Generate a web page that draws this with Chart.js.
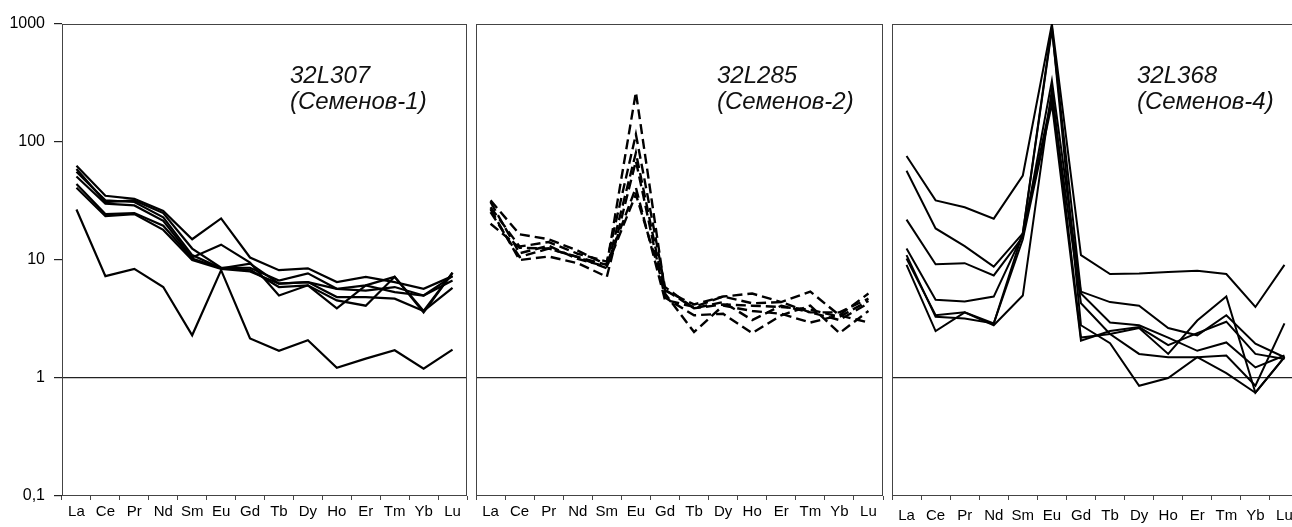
<!DOCTYPE html>
<html>
<head>
<meta charset="utf-8">
<script src="https://cdn.jsdelivr.net/npm/chart.js@4/dist/chart.umd.min.js"></script>
<style>
  html, body { margin: 0; padding: 0; background: #fff; }
  body { width: 1292px; height: 527px; overflow: hidden; position: relative; }
  canvas { position: absolute; top: 0; }
</style>
</head>
<body>
<canvas id="c1" width="470" height="527" style="left:0"></canvas>
<canvas id="c2" width="415" height="527" style="left:470px"></canvas>
<canvas id="c3" width="420" height="527" style="left:885px"></canvas>
<script>
const elements = ['La', 'Ce', 'Pr', 'Nd', 'Sm', 'Eu', 'Gd', 'Tb', 'Dy', 'Ho', 'Er', 'Tm', 'Yb', 'Lu'];
const yTicks = [0.1, 1, 10, 100, 1000];

// 32L307 (Семенов-1)
const s307a = [63, 35, 33, 26, 15, 22.5, 10.5, 8.2, 8.5, 6.5, 7.2, 6.5, 5.7, 7.3];
const s307b = [59, 31, 32, 25, 12.5, 8.6, 8.6, 6.7, 7.7, 5.7, 6.1, 7.2, 3.7, 7.8];
const s307c = [56, 32, 31, 23, 11, 8.5, 9.3, 6.3, 6.5, 5.7, 5.5, 5.9, 5.0, 6.7];
const s307d = [51, 30, 29, 21.5, 10.5, 13.5, 9.5, 5.0, 6.1, 4.55, 4.1, 7.2, 3.6, 7.8];
const s307e = [44, 24.5, 25, 19.5, 10.3, 8.5, 8.3, 5.9, 6.1, 3.9, 6.1, 5.35, 5.0, 7.3];
const s307f = [41, 23.5, 24.5, 18, 10, 8.4, 8.0, 6.3, 6.5, 4.85, 4.85, 4.7, 3.7, 5.8];
const s307g = [26.8, 7.3, 8.4, 5.9, 2.3, 8.2, 2.16, 1.70, 2.09, 1.22, 1.46, 1.72, 1.20, 1.74];

// 32L285 (Семенов-2)
const s285a = [32, 16.5, 15, 12, 9.1, 264, 5.5, 4.2, 4.9, 5.2, 4.4, 5.4, 3.4, 2.95];
const s285b = [28, 13, 14.2, 11.3, 9.7, 116, 5.9, 3.9, 4.4, 3.1, 4.1, 3.6, 3.6, 4.7];
const s285c = [25.5, 10.6, 12.5, 10.6, 8.5, 81, 5.2, 2.45, 4.1, 3.7, 3.5, 2.95, 3.4, 5.2];
const s285d = [27, 10, 10.7, 9.4, 7.2, 69, 4.8, 3.4, 3.5, 2.4, 3.4, 4.1, 2.4, 3.7];
const s285e = [20.3, 12.7, 12.5, 10.6, 9.1, 41, 4.6, 4.0, 4.9, 4.3, 4.4, 3.6, 3.1, 4.3];
const s285f = [31, 11.4, 13.2, 10.2, 8.8, 36, 5.6, 3.9, 4.2, 4.1, 4.0, 3.8, 3.3, 4.5];

// 32L368 (Семенов-4)
const s368a = [76, 32, 28, 22.4, 52, 1000, 11, 7.6, 7.7, 7.9, 8.1, 7.6, 4.0, 9.1];
const s368b = [57, 18.5, 13.1, 8.8, 16.8, 900, 5.4, 4.4, 4.1, 2.65, 2.3, 3.4, 1.95, 1.5];
const s368c = [22, 9.2, 9.4, 7.4, 15.7, 330, 5.2, 2.95, 2.8, 2.2, 1.7, 2.0, 1.23, 1.55];
const s368d = [12.5, 4.6, 4.45, 4.9, 16.5, 240, 4.3, 2.36, 1.6, 1.5, 1.5, 1.55, 0.86, 2.9];
const s368e = [10.3, 3.4, 3.6, 2.9, 17, 950, 2.8, 1.97, 0.86, 1.0, 1.5, 1.1, 0.75, 1.5];
const s368f = [9.1, 2.5, 3.6, 2.8, 5.0, 280, 2.2, 2.36, 2.65, 1.6, 3.07, 4.9, 0.75, 1.5];
const s368g = [11, 3.3, 3.2, 2.9, 15, 210, 2.07, 2.5, 2.7, 1.9, 2.4, 3.0, 1.6, 1.45];

const FONT = '"Liberation Sans", Arial, sans-serif';

// frame round the plot area
const frame = {
  id: 'frame',
  beforeDatasetsDraw(chart) {
    const { ctx, chartArea: a } = chart;
    ctx.save();
    ctx.strokeStyle = '#444';
    ctx.lineWidth = 1;
    ctx.strokeRect(a.left + 0.5, a.top + 0.5, a.right - a.left - 1, a.bottom - a.top - 1);
    ctx.restore();
  }
};

// sample name in the upper right
const sampleName = {
  id: 'sampleName',
  afterDraw(chart, args, opts) {
    const { ctx, chartArea: a } = chart;
    ctx.save();
    ctx.font = 'italic 24px ' + FONT;
    ctx.fillStyle = '#111';
    ctx.fillText(opts.lines[0], a.left + opts.dx, a.top + 59);
    ctx.fillText(opts.lines[1], a.left + opts.dx, a.top + 85);
    ctx.restore();
  }
};

function makePanel(id, series, opts) {
  const ctx = document.getElementById(id).getContext('2d');
  return new Chart(ctx, {
    type: 'line',
    data: {
      labels: elements,
      datasets: series.map(s => ({
        data: s,
        borderColor: '#000',
        borderWidth: opts.lineWidth,
        borderDash: opts.dash,
        pointRadius: 0,
        tension: 0,
        fill: false
      }))
    },
    options: {
      responsive: false,
      animation: false,
      layout: { padding: { left: opts.padLeft, right: opts.padRight, top: 24, bottom: 0 } },
      plugins: {
        legend: { display: false },
        tooltip: { enabled: false },
        sampleName: { lines: opts.title, dx: opts.titleDx }
      },
      scales: {
        x: {
          type: 'category',
          offset: true,
          afterFit: s => { s.height = 31; },
          border: { display: false },
          grid: { drawOnChartArea: false, drawTicks: true, tickLength: 4, tickColor: '#444', offset: true },
          ticks: { color: '#000', font: { family: FONT, size: 15 }, padding: opts.labelPad, maxRotation: 0, autoSkip: false }
        },
        y: {
          type: 'logarithmic',
          min: 0.1,
          max: 1000,
          afterBuildTicks: s => { s.ticks = yTicks.map(v => ({ value: v })); },
          afterFit: s => { s.width = opts.yWidth; },
          border: { display: false },
          grid: {
            color: c => (c.tick && c.tick.value === 1 ? '#222' : 'rgba(0,0,0,0)'),
            lineWidth: 1.2,
            drawTicks: opts.showY,
            tickLength: 8,
            tickColor: '#222'
          },
          ticks: {
            display: opts.showY,
            color: '#000',
            font: { family: FONT, size: 16 },
            padding: 9,
            callback: v => (v === 0.1 ? '0,1' : String(v))
          }
        }
      }
    },
    plugins: [frame, sampleName]
  });
}

makePanel('c1', [s307a, s307b, s307c, s307d, s307e, s307f, s307g], {
  lineWidth: 2.2, dash: [], padLeft: 0, padRight: 3, yWidth: 62, showY: true,
  labelPad: 3, title: ['32L307', '(Семенов-1)'], titleDx: 228
});
makePanel('c2', [s285a, s285b, s285c, s285d, s285e, s285f], {
  lineWidth: 2.4, dash: [10, 5], padLeft: 6, padRight: 2, yWidth: 0, showY: false,
  labelPad: 3, title: ['32L285', '(Семенов-2)'], titleDx: 241
});
makePanel('c3', [s368a, s368b, s368c, s368d, s368e, s368f, s368g], {
  lineWidth: 2, dash: [], padLeft: 7, padRight: 6, yWidth: 0, showY: false,
  labelPad: 7, title: ['32L368', '(Семенов-4)'], titleDx: 245
});
</script>
</body>
</html>
